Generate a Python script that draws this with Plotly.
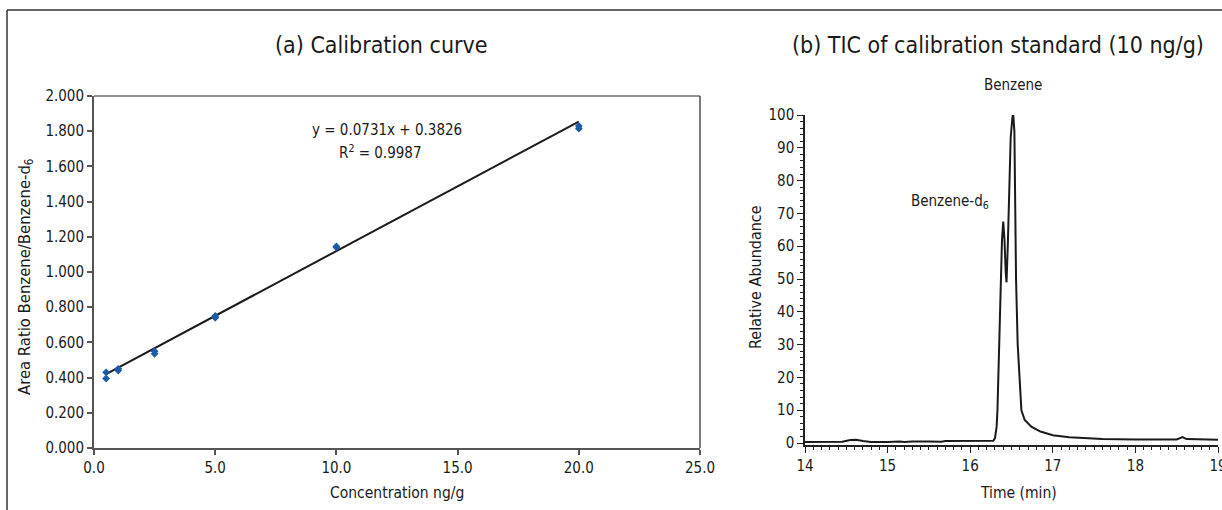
import plotly.graph_objects as go

# ---- data: (a) calibration curve ----
conc = [0.5, 0.5, 1.0, 1.0, 2.5, 2.5, 5.0, 5.0, 10.0, 10.0, 20.0, 20.0]
ratio = [0.430, 0.395, 0.440, 0.450, 0.535, 0.550, 0.740, 0.750, 1.140, 1.145, 1.815, 1.830]
trend_x = [0.5, 20.0]
trend_y = [0.420, 1.855]
a_yticks = [0.0, 0.2, 0.4, 0.6, 0.8, 1.0, 1.2, 1.4, 1.6, 1.8, 2.0]
a_xticks = [0, 5, 10, 15, 20, 25]

# ---- data: (b) TIC chromatogram ----
time_min = [14.00, 14.20, 14.35, 14.45, 14.55, 14.62, 14.70, 14.80, 15.00, 15.15, 15.20,
            15.30, 15.50, 15.65, 15.70, 16.00, 16.28, 16.30, 16.32, 16.33, 16.35, 16.37,
            16.385, 16.40, 16.415, 16.43, 16.44, 16.455, 16.47, 16.49, 16.51, 16.52,
            16.535, 16.545, 16.555, 16.575, 16.60, 16.62, 16.66, 16.74, 16.85, 17.00,
            17.20, 17.50, 17.60, 18.00, 18.50, 18.57, 18.62, 19.00]
abundance = [0.3, 0.3, 0.5, 0.4, 0.9, 1.0, 0.6, 0.3, 0.3, 0.5, 0.3,
             0.5, 0.5, 0.4, 0.6, 0.6, 0.7, 1.5, 5.0, 10.0, 30.0, 50.0,
             62.0, 67.5, 62.0, 52.0, 49.0, 60.0, 78.0, 93.0, 99.0, 100.5,
             95.0, 75.0, 50.0, 30.0, 17.0, 10.0, 7.0, 5.0, 3.5, 2.4,
             1.8, 1.5, 1.2, 1.1, 1.1, 1.8, 1.2, 1.0]
b_yticks = [0, 10, 20, 30, 40, 50, 60, 70, 80, 90, 100]
b_xticks = [14, 15, 16, 17, 18, 19]

FONT = "Liberation Sans Narrow, DejaVu Sans Condensed, Arial Narrow, sans-serif"
TXT = "#1a1a1a"
W, H = 1222, 510

def px(x):
    return x / W

def py(y):
    return 1 - y / H

fig = go.Figure()

fig.add_trace(go.Scatter(x=trend_x, y=trend_y, mode="lines",
                         line=dict(color="#1a1a1a", width=2),
                         xaxis="x", yaxis="y", showlegend=False, hoverinfo="skip"))
fig.add_trace(go.Scatter(x=conc, y=ratio, mode="markers",
                         marker=dict(symbol="diamond", size=6, color="#1f5aa6"),
                         xaxis="x", yaxis="y", showlegend=False))
fig.add_trace(go.Scatter(x=time_min, y=abundance, mode="lines",
                         line=dict(color="#1a1a1a", width=2),
                         xaxis="x2", yaxis="y2", showlegend=False))

axfont = dict(family=FONT, size=15, color=TXT)

fig.update_layout(
    template="none",
    width=W, height=H, autosize=False,
    margin=dict(l=0, r=0, t=0, b=0, pad=0),
    paper_bgcolor="white", plot_bgcolor="white",
    font=dict(family=FONT, color=TXT),
    xaxis=dict(domain=[px(94), px(700)], range=[0, 25], tickvals=a_xticks,
               tickformat=".1f", showgrid=False, zeroline=False, automargin=False,
               showline=True, linecolor="#555555", linewidth=2,
               ticks="outside", ticklen=5, tickcolor="#555555", tickwidth=1.5,
               tickfont=axfont, anchor="y"),
    yaxis=dict(domain=[py(448), py(96)], range=[0, 2.0], tickvals=a_yticks,
               tickformat=".3f", showgrid=False, zeroline=False, automargin=False,
               showline=True, linecolor="#555555", linewidth=2,
               ticks="outside", ticklen=5, tickcolor="#555555", tickwidth=1.5,
               tickfont=axfont, anchor="x"),
    xaxis2=dict(domain=[px(805), px(1218)], range=[14, 19], tickvals=b_xticks,
                showgrid=False, zeroline=False, automargin=False,
                ticklabeloverflow="allow",
                showline=True, linecolor="#222222", linewidth=1.5,
                ticks="outside", ticklen=6, tickcolor="#222222", tickwidth=1.2,
                minor=dict(dtick=0.1, ticks="outside", ticklen=3, tickcolor="#222222", tickwidth=1),
                tickfont=axfont, anchor="y2"),
    yaxis2=dict(domain=[py(445), py(115)], range=[-0.6, 100], tickvals=b_yticks,
                showgrid=False, zeroline=False, automargin=False,
                showline=True, linecolor="#222222", linewidth=1.5,
                ticks="outside", ticklen=6, tickcolor="#222222", tickwidth=1.2,
                minor=dict(dtick=2, ticks="outside", ticklen=3, tickcolor="#222222", tickwidth=1),
                tickfont=axfont, anchor="x2"),
)

# plot box of (a): thin top/right lines
fig.add_shape(type="line", xref="x domain", yref="y domain", x0=0, x1=1, y0=1, y1=1,
              line=dict(color="#222222", width=1.2))
fig.add_shape(type="line", xref="x domain", yref="y domain", x0=1, x1=1, y0=0, y1=1,
              line=dict(color="#222222", width=1.2))

# outer frame (top & left)
fig.add_shape(type="line", xref="paper", yref="paper", x0=px(7), x1=1, y0=py(10), y1=py(10),
              line=dict(color="#333333", width=1.5))
fig.add_shape(type="line", xref="paper", yref="paper", x0=px(7), x1=px(7), y0=0, y1=py(10),
              line=dict(color="#333333", width=1.5))

def ann(text, x, y, size=14, angle=0):
    fig.add_annotation(text=text, x=px(x), y=py(y), xref="paper", yref="paper",
                       showarrow=False, textangle=angle, xanchor="center", yanchor="middle",
                       font=dict(family=FONT, size=size, color=TXT))

ann("(a) Calibration curve", 381, 45, size=23)
ann("(b) TIC of calibration standard (10 ng/g)", 998, 45, size=23)
ann("y = 0.0731x + 0.3826", 387, 130, size=15)
ann("R<sup>2</sup> = 0.9987", 380, 152, size=15)
ann("Area Ratio Benzene/Benzene-d<sub>6</sub>", 25, 277, size=16.5, angle=-90)
ann("Concentration ng/g", 397, 493, size=15.5)
ann("Benzene", 1013, 85, size=15)
ann("Benzene-d<sub>6</sub>", 950, 202, size=15)
ann("Relative Abundance", 755, 277, size=16, angle=-90)
ann("Time (min)", 1018, 493, size=15.5)

fig.write_html("out.html",
               config={"displayModeBar": False},
               post_script="document.documentElement.style.margin='0';"
                           "document.body.style.margin='0';"
                           "document.body.style.overflow='hidden';"
                           "document.documentElement.style.overflow='hidden';")
